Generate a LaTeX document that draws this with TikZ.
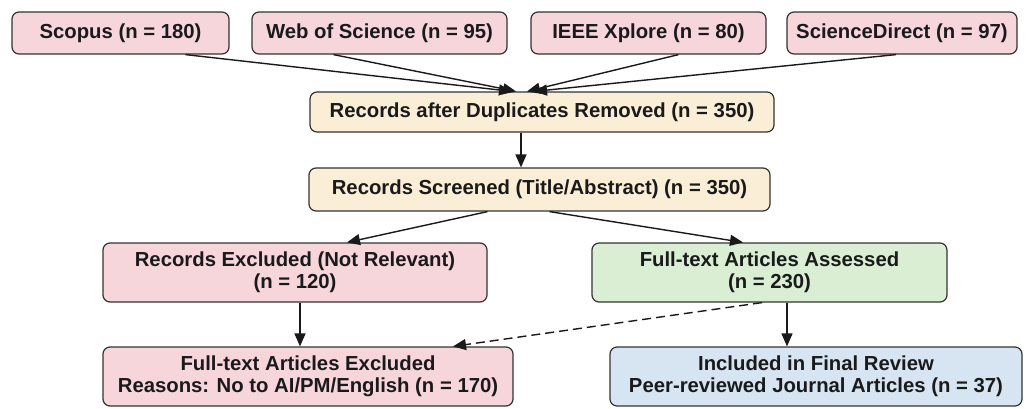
\documentclass[tikz,border=0pt]{standalone}
\usepackage{fontspec}
\setmainfont{Liberation Sans}
\usetikzlibrary{arrows.meta}
\definecolor{bordc}{HTML}{333333}
\definecolor{pinkf}{HTML}{F7D6DB}
\definecolor{beigef}{HTML}{FAEFD6}
\definecolor{greenf}{HTML}{DAEED4}
\definecolor{bluef}{HTML}{D7E5F3}
\definecolor{txtc}{HTML}{1A1A1A}
\begin{document}
\begin{tikzpicture}[x=1pt,y=-1pt,
  box/.style={draw=bordc, line width=1.2pt, rounded corners=7pt, align=center,
    inner sep=0pt, text=txtc, font=\fontsize{20.3}{22}\selectfont\bfseries},
  pinkbox/.style={box, fill=pinkf},
  beigebox/.style={box, fill=beigef},
  greenbox/.style={box, fill=greenf},
  bluebox/.style={box, fill=bluef},
  arr/.style={draw=black!90, line width=1.4pt, -{Triangle[length=13pt,width=11pt]}},
  darr/.style={arr, dash pattern=on 9pt off 5pt}
]
\useasboundingbox (0,0) rectangle (1029,408);
\fill[white] (0,0) rectangle (1029,408);

\node[pinkbox, minimum width=217pt, minimum height=42pt] (s1) at (120.5,33) {Scopus (n = 180)};
\node[pinkbox, minimum width=255pt, minimum height=42pt] (s2) at (379.5,33) {Web of Science (n = 95)};
\node[pinkbox, minimum width=235pt, minimum height=42pt] (s3) at (648.5,33) {IEEE Xplore (n = 80)};
\node[pinkbox, minimum width=230pt, minimum height=42pt] (s4) at (902,33) {ScienceDirect (n = 97)};

\node[beigebox, minimum width=464pt, minimum height=40pt] (dup) at (542,112) {Records after Duplicates Removed (n = 350)};
\node[beigebox, minimum width=461pt, minimum height=43pt] (scr) at (539.5,189.5) {Records Screened (Title/Abstract) (n = 350)};

\node[pinkbox, minimum width=384pt, minimum height=59pt] (exc) at (295,272.5) {Records Excluded (Not Relevant)\\(n = 120)};
\node[greenbox, minimum width=355pt, minimum height=59pt] (ft) at (769.5,272.5) {Full-text Articles Assessed\\(n = 230)};

\node[pinkbox, minimum width=410pt, minimum height=59pt] (fte) at (308,376.5) {Full-text Articles Excluded\\Reasons: No to AI/PM/English (n = 170)};
\node[bluebox, minimum width=412pt, minimum height=59pt] (inc) at (816,376.5) {Included in Final Review\\Peer-reviewed Journal Articles (n = 37)};

\draw[arr] ([xshift=65pt]s1.south) -- ([xshift=-30pt]dup.north);
\draw[arr] ([xshift=-46pt]s2.south) -- ([xshift=-26pt]dup.north);
\draw[arr] ([xshift=30pt]s3.south) -- ([xshift=-15pt]dup.north);
\draw[arr] ([xshift=-6pt]s4.south) -- ([xshift=-8pt]dup.north);

\draw[arr] ([xshift=-21pt]dup.south) -- ([xshift=-18.5pt]scr.north);
\draw[arr] ([xshift=-52pt]scr.south) -- ([xshift=52pt]exc.north);
\draw[arr] ([xshift=10pt]scr.south) -- ([xshift=-26.5pt]ft.north);
\draw[arr] ([xshift=5pt]exc.south) -- ([xshift=-8pt]fte.north);
\draw[arr] ([xshift=17.5pt]ft.south) -- ([xshift=-29pt]inc.north);
\draw[darr] ([xshift=-7.5pt]ft.south) -- ([xshift=145pt]fte.north);
\end{tikzpicture}
\end{document}
